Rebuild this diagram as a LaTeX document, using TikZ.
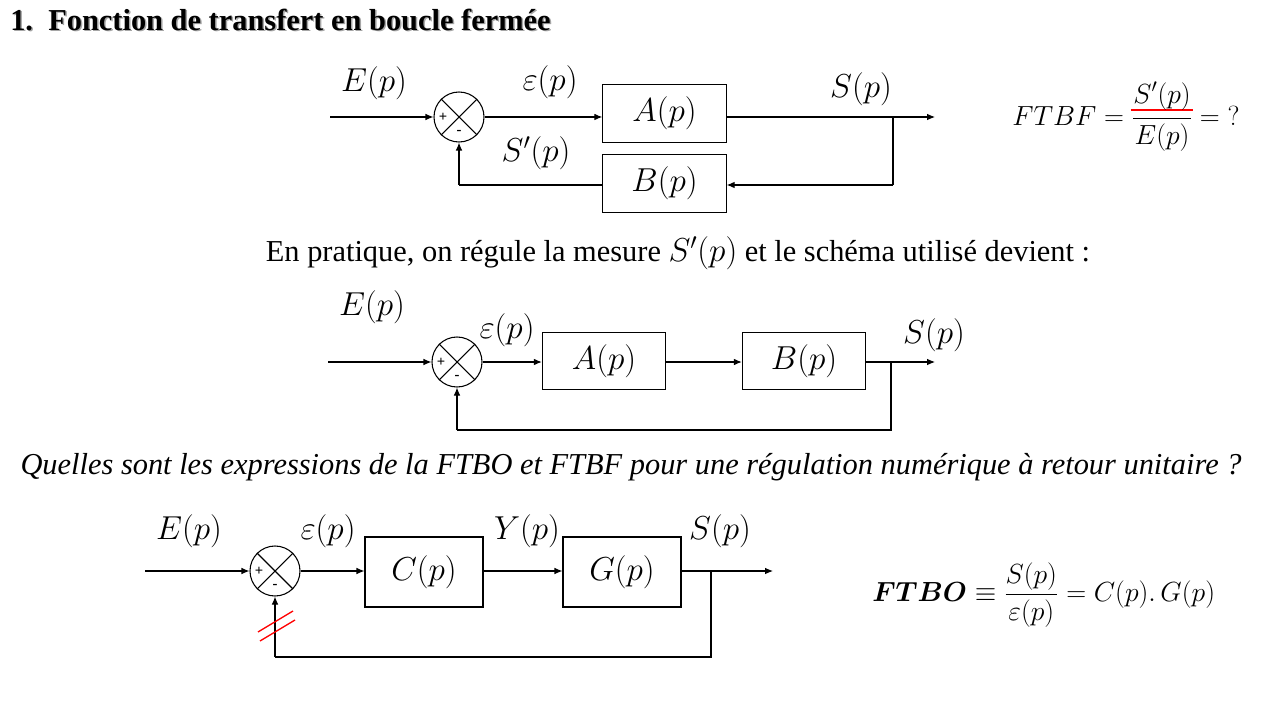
\documentclass[tikz,border=0pt]{standalone}
\usepackage{amsmath}
\usepackage{fontspec}
\setmainfont{Liberation Serif}
\usetikzlibrary{arrows.meta}
\newcommand{\myredul}[1]{\setbox0\hbox{$#1$}\hbox to 0pt{\kern-2pt\color{red}\rule[-6pt]{\dimexpr\wd0+4pt\relax}{1.2pt}\hss}\box0\vrule width 0pt depth 9pt height 0pt}
\begin{document}
\begin{tikzpicture}[x=0.75pt,y=-0.75pt,
  ln/.style={line width=0.8pt},
  arr/.style={ln,-{Latex[length=6pt,width=5pt]}},
  blk/.style={draw,line width=0.8pt,minimum width=92.5pt,minimum height=43pt,inner sep=0pt,font=\fontsize{23.5}{26}\selectfont},
  blkb/.style={blk,minimum width=88.5pt,minimum height=52.5pt},
  sumj/.style={draw,circle,line width=0.8pt,minimum size=37.5pt,inner sep=0pt},
  lab/.style={font=\fontsize{23.5}{26}\selectfont,inner sep=0pt},
  frm/.style={font=\fontsize{20.5}{24}\selectfont,inner sep=0pt,anchor=west},
  sgn/.style={font=\fontsize{11}{12}\selectfont\bfseries,inner sep=0pt},
  txt/.style={font=\fontsize{22.8}{26}\selectfont,inner sep=0pt}
]
\useasboundingbox (0,0) rectangle (1280,720);
% Title
\node[anchor=west,inner sep=0pt,text=black!35,font=\fontsize{22.8}{26}\selectfont\bfseries] (titlesh) at (11.5,21.5) {1.\ \ Fonction de transfert en boucle fermée};
\node[anchor=west,inner sep=0pt,font=\fontsize{22.8}{26}\selectfont\bfseries] (title) at (10,20) {1.\ \ Fonction de transfert en boucle fermée};

% ---------- Diagram 1 ----------
\coordinate (in1) at (330,117);
\node[sumj] (s1) at (459,117) {};
\draw[ln] (s1.north west) -- (s1.south east) (s1.north east) -- (s1.south west);
\node[sgn] (p1) at (443,117) {+};
\node[sgn] (m1) at (459,132) {-};
\node[blk] (A1) at (664.5,113.5) {$A(p)$};
\node[blk] (B1) at (664.5,183.5) {$B(p)$};
\coordinate (out1) at (935,117);
\coordinate (br1) at (893,117);
\coordinate (c1a) at (893,185);
\coordinate (c1b) at (459,185);
\draw[arr] (in1) -- (s1.west);
\draw[arr] (s1.east) -- (s1.east -| A1.west);
\draw[arr] (s1.east -| A1.east) -- (out1);
\draw[ln] (br1) -- (c1a);
\draw[arr] (c1a) -- (c1a -| B1.east);
\draw[ln] (c1b -| B1.west) -- (c1b);
\draw[arr] (c1b) -- (s1.south);
\node[lab] (E1) at (374,83) {$E(p)$};
\node[lab] (e1) at (550,82) {$\varepsilon(p)$};
\node[lab] (S1) at (861,89) {$S(p)$};
\node[lab] (Sp1) at (536,153) {$S'(p)$};
\node[frm] (F1) at (1012,117) {$FTBF=\dfrac{\myredul{S'(p)}}{E(p)}=\;?$};

% text
\node[txt] (t2) at (678,253) {En pratique, on régule la mesure \fontsize{23.5}{26}\selectfont$S'(p)$\fontsize{22.8}{26}\selectfont{} et le schéma utilisé devient :};

% ---------- Diagram 2 ----------
\coordinate (in2) at (328,362);
\node[sumj] (s2) at (457,362) {};
\draw[ln] (s2.north west) -- (s2.south east) (s2.north east) -- (s2.south west);
\node[sgn] (p2) at (441,362) {+};
\node[sgn] (m2) at (457,377) {-};
\node[blk] (A2) at (604,361) {$A(p)$};
\node[blk] (B2) at (804,361) {$B(p)$};
\coordinate (out2) at (935,362);
\coordinate (br2) at (891,362);
\coordinate (c2a) at (891,430);
\coordinate (c2b) at (457,430);
\draw[arr] (in2) -- (s2.west);
\draw[arr] (s2.east) -- (s2.east -| A2.west);
\draw[arr] (s2.east -| A2.east) -- (s2.east -| B2.west);
\draw[arr] (s2.east -| B2.east) -- (out2);
\draw[ln] (br2) -- (c2a) -- (c2b);
\draw[arr] (c2b) -- (s2.south);
\node[lab] (E2) at (372,307) {$E(p)$};
\node[lab] (e2) at (507,330) {$\varepsilon(p)$};
\node[lab] (S2) at (934,335) {$S(p)$};

% question
\node[txt,font=\fontsize{22.8}{26}\selectfont\itshape] (q) at (631,467) {Quelles sont les expressions de la FTBO et FTBF pour une régulation numérique à retour unitaire ?};

% ---------- Diagram 3 ----------
\coordinate (in3) at (145,571);
\node[sumj] (s3) at (275,571) {};
\draw[ln] (s3.north west) -- (s3.south east) (s3.north east) -- (s3.south west);
\node[sgn] (p3) at (259,571) {+};
\node[sgn] (m3) at (275,586) {-};
\node[blkb] (C3) at (424,572) {$C(p)$};
\node[blkb] (G3) at (622,572) {$G(p)$};
\coordinate (out3) at (773,571);
\coordinate (br3) at (711,571);
\coordinate (c3a) at (711,657);
\coordinate (c3b) at (275,657);
\draw[arr] (in3) -- (s3.west);
\draw[arr] (s3.east) -- (s3.east -| C3.west);
\draw[arr] (s3.east -| C3.east) -- (s3.east -| G3.west);
\draw[arr] (s3.east -| G3.east) -- (out3);
\draw[ln] (br3) -- (c3a) -- (c3b);
\draw[arr] (c3b) -- (s3.south);
\draw[red,line width=1pt] (258,632) -- (293,611) (260,641) -- (295,620);
\node[lab] (E3) at (189,531) {$E(p)$};
\node[lab] (e3) at (328,531) {$\varepsilon(p)$};
\node[lab] (Y3) at (527,531) {$Y(p)$};
\node[lab] (S3) at (720,531) {$S(p)$};
\node[frm] (F3) at (872,595) {$\boldsymbol{FTBO}\equiv\dfrac{S(p)}{\varepsilon(p)}=C(p).\,G(p)$};
\end{tikzpicture}
\end{document}
